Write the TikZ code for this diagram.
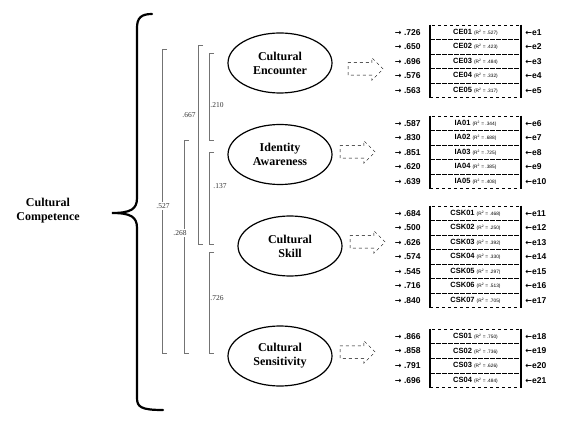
\documentclass[tikz,border=0pt]{standalone}
\usepackage{fontspec}
\setmainfont{Liberation Serif}
\setsansfont{Liberation Sans}
\newfontfamily\arrowfont{DejaVu Sans}
\usetikzlibrary{positioning,shapes.geometric,shapes.arrows}
\newcommand{\rsqfont}{\mdseries\fontsize{4.8}{5}\selectfont}
\newcommand{\rarr}{{\arrowfont\bfseries\fontsize{8}{10}\selectfont →}}
\newcommand{\larr}{{\arrowfont\bfseries\fontsize{8}{10}\selectfont ←}}

\begin{document}
\begin{tikzpicture}[x=1pt, y=-1pt, node distance=9pt,
latent/.style={draw, ellipse, line width=1.2pt, minimum width=104pt, minimum height=60pt, inner sep=0pt, align=center, font=\bfseries\fontsize{12}{14}\selectfont},
item/.style={draw, dashed, line width=0.5pt, minimum width=91pt, minimum height=14.5pt, inner sep=0pt, font=\sffamily\bfseries\fontsize{7.5}{9}\selectfont},
load/.style={inner sep=0pt, font=\sffamily\bfseries\fontsize{8.5}{10}\selectfont},
err/.style={inner sep=0pt, font=\sffamily\bfseries\fontsize{8.5}{10}\selectfont},
bar/.style={line width=2pt},
hollow/.style={draw, dashed, single arrow, single arrow head extend=5pt, minimum height=35pt, inner sep=6pt, line width=0.5pt},
corr/.style={draw=black!55, line width=0.6pt},
rlab/.style={inner sep=1pt, text=black!80, font=\fontsize{7.5}{9}\selectfont},
brace/.style={line width=2.2pt, line cap=round}]
\useasboundingbox (0,0) rectangle (580,427);

% second-order factor
\node[font=\bfseries\fontsize{12}{14}\selectfont, align=center] (comp) at (48,211) {Cultural\\Competence};
\draw[brace] (152,14) .. controls (141,14) and (137,18) .. (137,28) -- (137,198)
  .. controls (137,209) and (131,213) .. (112,213) .. controls (131,213) and (137,217) .. (137,228)
  -- (137,398) .. controls (137,407) and (141,410) .. (163,410);

% first-order factors
\node[latent] (ce) at (280,63) {Cultural\\Encounter};
\node[latent] (ia) at (280,154.5) {Identity\\Awareness};
\node[latent] (csk) at (290,246) {Cultural\\Skill};
\node[latent] (cs) at (280,356) {Cultural\\Sensitivity};

\node[hollow] (cearr) at (362.5,69) {};
\node[hollow] (iaarr) at (354.5,152) {};
\node[hollow] (cskarr) at (364.5,242) {};
\node[hollow] (csarr) at (354.5,352) {};

% correlations
\draw[corr] (214,53) -- (209,53) -- (209,140) -- (214,140);
\draw[corr] (214,152) -- (209,152) -- (209,244) -- (214,244);
\draw[corr] (214,252) -- (209,252) -- (209,353) -- (214,353);
\draw[corr] (203,45) -- (198,45) -- (198,244) -- (203,244);
\draw[corr] (189,140) -- (184,140) -- (184,353) -- (189,353);
\draw[corr] (167,49) -- (162,49) -- (162,353) -- (167,353);
\node[rlab] (r210) at (217,105) {.210};
\node[rlab] (r137) at (220,186) {.137};
\node[rlab] (r726) at (217,298) {.726};
\node[rlab, fill=white] (r667) at (189,115) {.667};
\node[rlab, fill=white] (r268) at (180,233) {.268};
\node[rlab, fill=white] (r527) at (163,206) {.527};

% items
\foreach \en/\code/\rsq/\ld [count=\i] in {1/CE01/.527/.726, 2/CE02/.423/.650, 3/CE03/.484/.696, 4/CE04/.332/.576, 5/CE05/.317/.563} {
  \node[item] (ce\i) at (475.5,32.25+14.5*\i-14.5) {\code\ {\rsqfont(R\textsuperscript{2} = \rsq)}};
  \node[load, left=of ce\i] (vce\i) {\rarr\ \ld};
  \node[err, right=4pt of ce\i] (ece\i) {\larr e\en};
}
\foreach \en/\code/\rsq/\ld [count=\i] in {6/IA01/.344/.587, 7/IA02/.688/.830, 8/IA03/.725/.851, 9/IA04/.385/.620, 10/IA05/.408/.639} {
  \node[item] (ia\i) at (475.5,123.25+14.5*\i-14.5) {\code\ {\rsqfont(R\textsuperscript{2} = \rsq)}};
  \node[load, left=of ia\i] (via\i) {\rarr\ \ld};
  \node[err, right=4pt of ia\i] (eia\i) {\larr e\en};
}
\foreach \en/\code/\rsq/\ld [count=\i] in {11/CSK01/.468/.684, 12/CSK02/.250/.500, 13/CSK03/.392/.626, 14/CSK04/.330/.574, 15/CSK05/.297/.545, 16/CSK06/.513/.716, 17/CSK07/.705/.840} {
  \node[item] (csk\i) at (475.5,213.25+14.5*\i-14.5) {\code\ {\rsqfont(R\textsuperscript{2} = \rsq)}};
  \node[load, left=of csk\i] (vcsk\i) {\rarr\ \ld};
  \node[err, right=4pt of csk\i] (ecsk\i) {\larr e\en};
}
\foreach \en/\code/\rsq/\ld [count=\i] in {18/CS01/.750/.866, 19/CS02/.736/.858, 20/CS03/.626/.791, 21/CS04/.484/.696} {
  \node[item] (cs\i) at (475.5,336.25+14.7*\i-14.7) {\code\ {\rsqfont(R\textsuperscript{2} = \rsq)}};
  \node[load, left=of cs\i] (vcs\i) {\rarr\ \ld};
  \node[err, right=4pt of cs\i] (ecs\i) {\larr e\en};
}
\draw[bar] (ce1.north west) -- (ce5.south west); \draw[bar] (ce1.north east) -- (ce5.south east);
\draw[bar] (ia1.north west) -- (ia5.south west); \draw[bar] (ia1.north east) -- (ia5.south east);
\draw[bar] (csk1.north west) -- (csk7.south west); \draw[bar] (csk1.north east) -- (csk7.south east);
\draw[bar] (cs1.north west) -- (cs4.south west); \draw[bar] (cs1.north east) -- (cs4.south east);
\end{tikzpicture}
\end{document}
